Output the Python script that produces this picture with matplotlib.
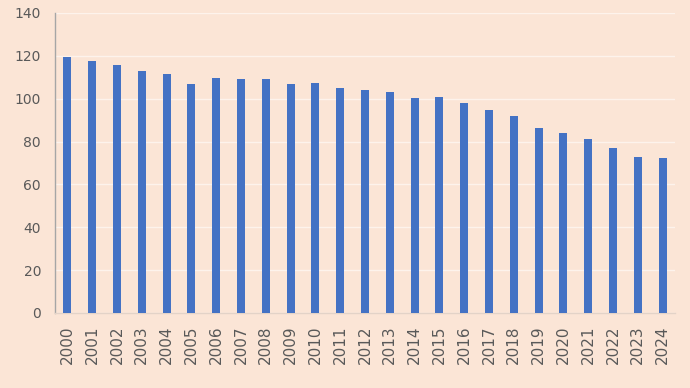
import numpy as np
import matplotlib.pyplot as plt

# data
years = [str(y) for y in range(2000, 2025)]
values = [119.3, 117.5, 115.7, 112.9, 111.5, 106.7, 109.8, 109.3, 109.1, 107.0,
          107.5, 105.1, 104.0, 103.1, 100.5, 101.0, 97.8, 94.9, 91.8, 86.5,
          84.0, 81.3, 77.0, 72.8, 72.3]

bg = '#FBE5D6'
fig = plt.figure(figsize=(6.9, 3.88), dpi=100, facecolor=bg)
ax = fig.add_axes([0.0797, 0.1933, 0.8986, 0.7732], facecolor=bg)

x = np.arange(len(years))
ax.bar(x, values, width=0.32, color='#4472C4', zorder=3)

ax.set_xlim(-0.5, len(years) - 0.5)
ax.set_ylim(0, 140)
ax.set_yticks(np.arange(0, 141, 20))
ax.set_xticks(x)
ax.set_xticklabels(years, rotation=90)

ax.grid(axis='y', color='#FDF3EC', linewidth=1.0, zorder=0)
ax.tick_params(axis='both', length=0, labelsize=10, colors='#595959')
ax.tick_params(axis='x', pad=9, labelsize=11)
ax.tick_params(axis='y', pad=10)

for s in ['top', 'right']:
    ax.spines[s].set_visible(False)
ax.spines['left'].set_color('#A6A6A6')
ax.spines['left'].set_linewidth(1.0)
ax.spines['bottom'].set_color('#E3D3C8')
ax.spines['bottom'].set_linewidth(1.0)

fig.savefig('out.png', dpi=100, facecolor=bg)
